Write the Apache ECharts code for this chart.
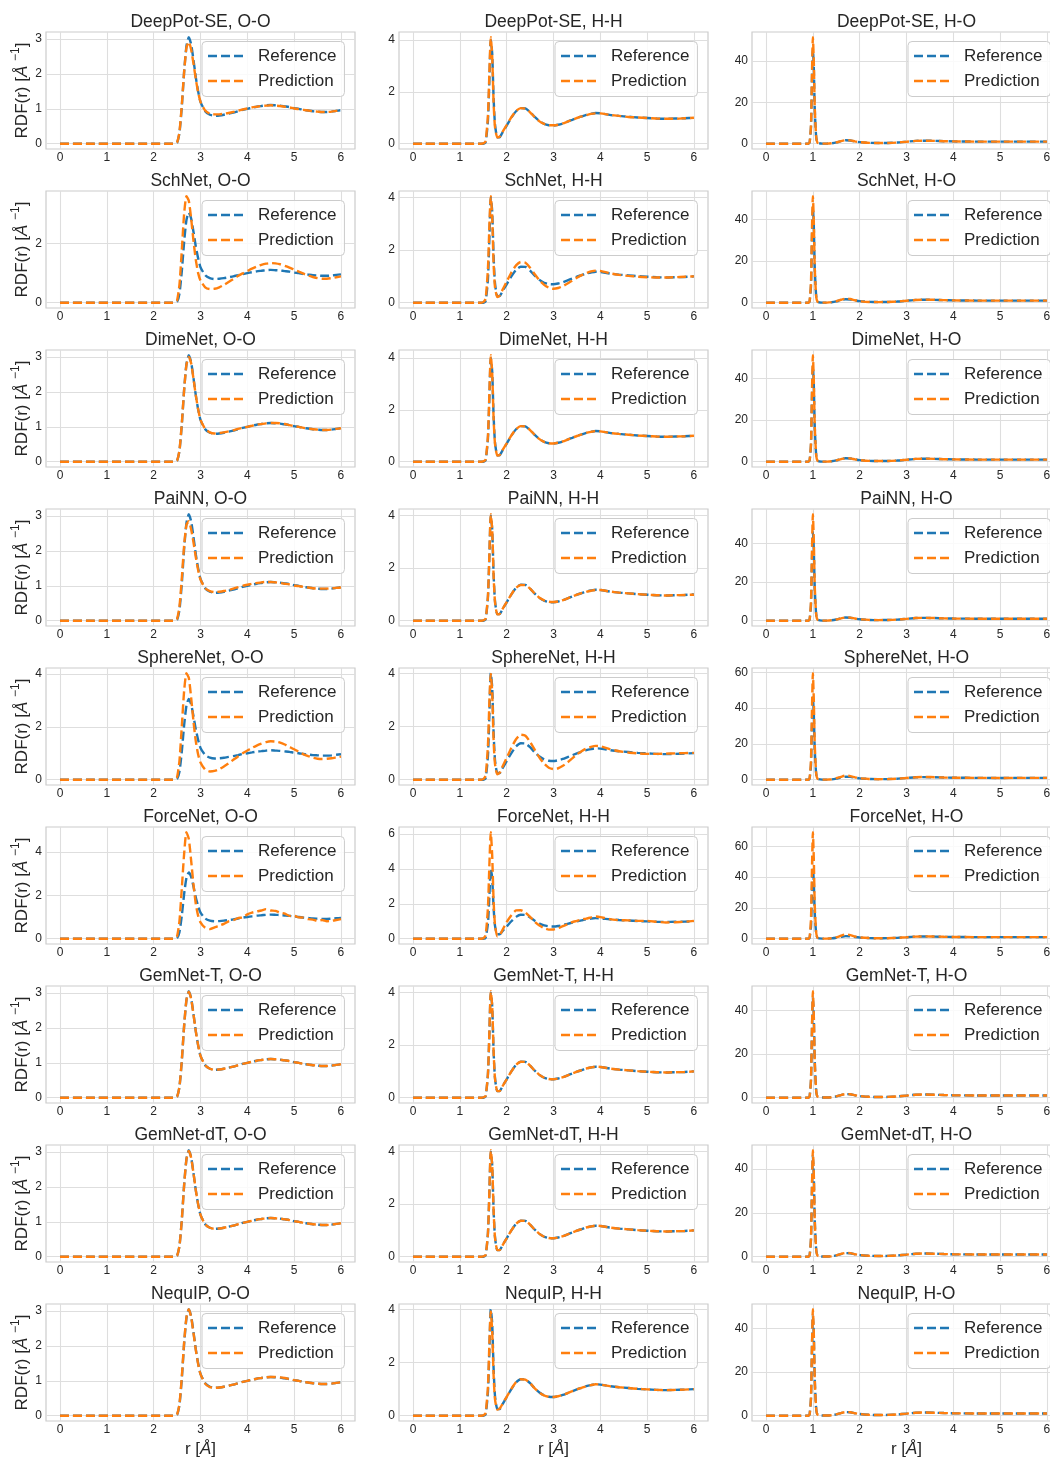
<!DOCTYPE html>
<html><head><meta charset="utf-8">
<script src="https://cdn.jsdelivr.net/npm/echarts@6/dist/echarts.min.js"></script>
<style>html,body{margin:0;padding:0;background:#fff;overflow:hidden;width:1050px;height:1462px}#c{width:1070px;height:1462px}</style>
</head><body><div id="c"></div>
<script>
const models = ['DeepPot-SE','SchNet','DimeNet','PaiNN','SphereNet','ForceNet','GemNet-T','GemNet-dT','NequIP'];
const pairs = ['O-O','H-H','H-O'];
const seriesNames = ['Reference','Prediction'];

// r grids [Å]
const rOO = [0,2.4,2.45,2.5,2.55,2.6,2.65,2.7,2.75,2.8,2.85,2.9,2.95,3.0,3.1,3.2,3.3,3.4,3.5,3.6,3.7,3.8,3.9,4.0,4.1,4.2,4.3,4.4,4.5,4.6,4.7,4.8,4.9,5.0,5.1,5.2,5.3,5.4,5.5,5.6,5.7,5.8,5.9,6.0];
const rHH = [0,1.45,1.5,1.55,1.6,1.63,1.66,1.69,1.72,1.75,1.8,1.85,1.9,2.0,2.1,2.2,2.3,2.4,2.5,2.6,2.7,2.8,2.9,3.0,3.1,3.2,3.3,3.4,3.5,3.6,3.7,3.8,3.9,4.0,4.2,4.4,4.6,4.8,5.0,5.2,5.4,5.6,5.8,6.0];
const rHO = [0,0.9,0.93,0.96,0.98,1.0,1.02,1.04,1.07,1.1,1.2,1.3,1.4,1.5,1.6,1.7,1.8,1.9,2.0,2.2,2.4,2.6,2.8,3.0,3.2,3.4,3.6,3.8,4.0,4.5,5.0,5.5,6.0];

// reference RDFs
const refOO = [0,0,0,0.03,0.3,1.05,2.05,2.8,3.05,2.85,2.4,1.9,1.5, 1.2,0.93,0.83,0.8,0.81,0.83,0.86,0.89,0.93,0.97,1.0, 1.03,1.06,1.08,1.1,1.11,1.1,1.09,1.07,1.05,1.02, 1.0,0.97,0.95,0.93,0.92,0.91,0.91,0.92,0.94,0.96];
const refHH = [0,0,0,0.05,0.9,2.4,4.0,3.5,1.8,0.75,0.25,0.25,0.4, 0.7,1.0,1.25,1.37,1.36,1.22,1.03,0.87,0.76,0.71,0.7, 0.73,0.78,0.85,0.92,0.99,1.05,1.11,1.15,1.18,1.17, 1.11,1.07,1.04,1.01,0.99,0.97,0.96,0.97,0.98,1.0];
const refHO = [0,0,0.5,8,30,46,37,17,3.5,0.5, 0.05,0.05,0.2,0.6,1.2,1.65,1.55,1.1,0.75, 0.4,0.3,0.35,0.55,0.95,1.35,1.45,1.35,1.2,1.1, 1.0,0.98,0.99,1.0];

// predicted RDFs, O-O
const deepPotOO = [0,0,0,0.04,0.33,1.1,2.05,2.75,2.92,2.7,2.3,1.85,1.47, 1.2,0.95,0.86,0.84,0.84,0.86,0.88,0.91,0.94,0.98,1.01, 1.04,1.06,1.08,1.09,1.1,1.09,1.08,1.06,1.04,1.01, 0.99,0.97,0.95,0.93,0.92,0.91,0.91,0.92,0.94,0.96];
const schNetOO = [0,0,0.01,0.08,0.6,1.75,3.0,3.6,3.45,2.85,2.1,1.45,1.0, 0.75,0.52,0.46,0.47,0.52,0.6,0.7,0.8,0.9,0.99,1.07, 1.15,1.22,1.28,1.32,1.34,1.33,1.3,1.25,1.19,1.12, 1.05,0.98,0.92,0.87,0.83,0.81,0.81,0.83,0.86,0.89];
const dimeNetOO = [0,0,0,0.03,0.32,1.08,2.05,2.78,3.0,2.82,2.38,1.9,1.5, 1.2,0.94,0.84,0.81,0.82,0.84,0.87,0.9,0.94,0.97,1.0, 1.03,1.06,1.08,1.1,1.11,1.11,1.1,1.08,1.05,1.02, 1.0,0.97,0.95,0.93,0.92,0.91,0.91,0.92,0.94,0.96];
const paiNNOO = [0,0,0,0.05,0.4,1.2,2.15,2.75,2.85,2.62,2.25,1.82,1.45, 1.18,0.93,0.85,0.82,0.83,0.85,0.88,0.92,0.96,1.0,1.03, 1.06,1.08,1.1,1.11,1.11,1.1,1.08,1.06,1.04,1.01, 0.99,0.97,0.95,0.93,0.92,0.92,0.92,0.93,0.94,0.95];
const sphereNetOO = [0,0,0.01,0.1,0.7,2.0,3.35,4.02,3.85,3.1,2.2,1.45,0.95, 0.65,0.38,0.31,0.33,0.4,0.5,0.62,0.75,0.88,1.0,1.1, 1.2,1.29,1.36,1.42,1.45,1.44,1.4,1.33,1.24,1.15, 1.05,0.96,0.89,0.83,0.79,0.78,0.79,0.81,0.84,0.87];
const forceNetOO = [0,0,0.02,0.12,0.8,2.3,3.9,4.9,4.6,3.6,2.5,1.6,1.05, 0.75,0.5,0.44,0.52,0.6,0.68,0.8,0.85,0.95,0.98,1.12, 1.2,1.25,1.3,1.36,1.3,1.28,1.2,1.15,1.05,1.05, 0.98,0.97,0.9,0.88,0.82,0.86,0.8,0.82,0.86,0.9];
const gemNetTOO = [0,0,0,0.03,0.31,1.06,2.06,2.8,3.04,2.84,2.39,1.9,1.5, 1.2,0.93,0.83,0.8,0.81,0.83,0.86,0.89,0.93,0.97,1.0, 1.03,1.06,1.08,1.1,1.11,1.1,1.09,1.07,1.05,1.02, 1.0,0.97,0.95,0.93,0.92,0.91,0.91,0.92,0.94,0.96];
const gemNetdTOO = [0,0,0,0.03,0.3,1.04,2.04,2.79,3.03,2.84,2.4,1.9,1.5, 1.2,0.93,0.83,0.8,0.81,0.83,0.86,0.89,0.93,0.97,1.0, 1.03,1.06,1.08,1.1,1.11,1.1,1.09,1.07,1.05,1.02, 1.0,0.97,0.95,0.93,0.92,0.91,0.91,0.92,0.94,0.96];
const nequIPOO = [0,0,0,0.04,0.33,1.1,2.1,2.82,3.05,2.83,2.37,1.88,1.48, 1.19,0.92,0.82,0.8,0.81,0.83,0.86,0.89,0.93,0.97,1.0, 1.03,1.06,1.08,1.1,1.11,1.11,1.1,1.08,1.05,1.02, 1.0,0.97,0.95,0.93,0.92,0.91,0.91,0.92,0.94,0.96];

// predicted RDFs, H-H
const deepPotHH = [0,0,0.01,0.1,1.1,2.7,4.1,3.4,1.6,0.65,0.24,0.27,0.42, 0.72,1.02,1.26,1.37,1.35,1.21,1.02,0.86,0.76,0.71,0.71, 0.73,0.78,0.85,0.92,0.99,1.05,1.1,1.15,1.17,1.17, 1.11,1.07,1.03,1.01,0.99,0.97,0.96,0.96,0.98,1.0];
const schNetHH = [0,0,0.02,0.15,1.3,2.9,4.05,3.3,1.5,0.6,0.21,0.27,0.45, 0.8,1.15,1.42,1.55,1.52,1.33,1.08,0.85,0.68,0.57,0.53, 0.56,0.63,0.73,0.84,0.95,1.05,1.13,1.19,1.22,1.21, 1.12,1.06,1.02,0.99,0.97,0.96,0.96,0.97,0.99,1.0];
const dimeNetHH = [0,0,0.01,0.08,1.0,2.6,4.1,3.45,1.7,0.7,0.24,0.26,0.41, 0.71,1.01,1.25,1.37,1.36,1.22,1.03,0.87,0.76,0.71,0.7, 0.73,0.78,0.85,0.92,0.99,1.05,1.11,1.15,1.18,1.17, 1.11,1.07,1.04,1.01,0.99,0.97,0.96,0.97,0.98,1.0];
const paiNNHH = [0,0,0.01,0.07,0.95,2.5,4.05,3.5,1.75,0.72,0.24,0.26,0.41, 0.71,1.0,1.25,1.36,1.35,1.22,1.03,0.87,0.77,0.72,0.71, 0.73,0.78,0.85,0.92,0.99,1.05,1.1,1.14,1.17,1.17, 1.11,1.07,1.04,1.01,0.99,0.97,0.96,0.97,0.98,0.99];
const sphereNetHH = [0,0,0.02,0.15,1.3,2.9,3.98,3.3,1.5,0.6,0.2,0.26,0.45, 0.82,1.2,1.52,1.69,1.65,1.42,1.12,0.83,0.6,0.45,0.4, 0.43,0.52,0.65,0.8,0.95,1.07,1.17,1.23,1.27,1.26, 1.15,1.07,1.02,0.99,0.97,0.97,0.98,0.99,1.0,1.01];
const forceNetHH = [0,0,0.02,0.2,1.8,4.2,6.1,4.8,2.2,0.8,0.13,0.2,0.45, 0.95,1.35,1.62,1.63,1.5,1.25,0.97,0.75,0.6,0.52,0.53, 0.6,0.72,0.82,0.95,1.02,1.1,1.15,1.22,1.27,1.24, 1.12,1.06,1.05,1.02,1.02,0.97,0.93,0.94,0.97,1.02];
const gemNetTHH = [0,0,0.01,0.06,0.92,2.45,4.05,3.5,1.78,0.74,0.25,0.25,0.4, 0.7,1.0,1.25,1.37,1.36,1.22,1.03,0.87,0.76,0.71,0.7, 0.73,0.78,0.85,0.92,0.99,1.05,1.11,1.15,1.18,1.17, 1.11,1.07,1.04,1.01,0.99,0.97,0.96,0.97,0.98,1.0];
const gemNetdTHH = [0,0,0.01,0.06,0.9,2.45,4.05,3.5,1.78,0.74,0.25,0.25,0.4, 0.7,1.0,1.25,1.37,1.36,1.22,1.03,0.87,0.76,0.71,0.7, 0.73,0.78,0.85,0.92,0.99,1.05,1.11,1.15,1.18,1.17, 1.11,1.07,1.04,1.01,0.99,0.97,0.96,0.97,0.98,1.0];
const nequIPHH = [0,0,0.01,0.1,1.1,2.7,3.92,3.2,1.55,0.62,0.23,0.26,0.41, 0.71,1.01,1.26,1.37,1.36,1.22,1.03,0.87,0.76,0.71,0.7, 0.73,0.78,0.85,0.92,0.99,1.05,1.11,1.15,1.18,1.17, 1.11,1.07,1.04,1.01,0.99,0.97,0.96,0.97,0.98,1.0];

// predicted RDFs, H-O
const deepPotHO = [0,0,0.6,9,33,51.5,40,18,3.6,0.5, 0.05,0.05,0.2,0.6,1.25,1.7,1.6,1.12,0.75, 0.4,0.3,0.35,0.55,0.95,1.35,1.45,1.35,1.2,1.1, 1.0,0.98,0.99,1.0];
const schNetHO = [0,0,0.7,10,34,51,39,17,3.2,0.5, 0.05,0.05,0.25,0.7,1.4,1.95,1.75,1.15,0.7, 0.35,0.28,0.35,0.55,0.95,1.3,1.45,1.38,1.22,1.1, 1.0,0.98,0.99,1.0];
const dimeNetHO = [0,0,0.6,9,32,51,39,17.5,3.5,0.5, 0.05,0.05,0.2,0.6,1.2,1.7,1.6,1.1,0.75, 0.4,0.3,0.35,0.55,0.95,1.35,1.45,1.35,1.2,1.1, 1.0,0.98,0.99,1.0];
const paiNNHO = [0,0,0.6,10,35,55,42,18,3.5,0.5, 0.05,0.05,0.2,0.6,1.2,1.7,1.6,1.1,0.75, 0.4,0.3,0.35,0.55,0.95,1.35,1.45,1.35,1.2,1.1, 1.0,0.98,0.99,1.0];
const sphereNetHO = [0,0,0.8,11,38,59.5,45,20,4,0.6, 0.05,0.05,0.25,0.8,1.6,2.3,2.0,1.3,0.8, 0.4,0.28,0.32,0.55,0.95,1.35,1.5,1.4,1.22,1.1, 1.0,0.98,0.99,1.0];
const forceNetHO = [0,0,0.9,13,44,69,52,22,4.5,0.6, 0.05,0.05,0.3,0.9,1.9,2.8,2.3,1.4,0.8, 0.4,0.28,0.32,0.55,0.95,1.35,1.5,1.4,1.22,1.1, 1.0,0.98,0.99,1.0];
const gemNetTHO = [0,0,0.5,8.5,31,48.8,38,17,3.5,0.5, 0.05,0.05,0.2,0.6,1.2,1.65,1.55,1.1,0.75, 0.4,0.3,0.35,0.55,0.95,1.35,1.45,1.35,1.2,1.1, 1.0,0.98,0.99,1.0];
const gemNetdTHO = [0,0,0.5,8.5,31,48.6,38,17,3.5,0.5, 0.05,0.05,0.2,0.6,1.25,1.7,1.6,1.12,0.75, 0.4,0.3,0.35,0.55,0.95,1.35,1.45,1.35,1.2,1.1, 1.0,0.98,0.99,1.0];
const nequIPHO = [0,0,0.5,8.5,31,48.7,38,17,3.5,0.5, 0.05,0.05,0.2,0.6,1.2,1.65,1.55,1.1,0.75, 0.4,0.3,0.35,0.55,0.95,1.35,1.45,1.35,1.2,1.1, 1.0,0.98,0.99,1.0];

const xTickStep = 1;
const yTickSteps = [0.5,1,2,5,10,20,50,100];

// ---- build option ----
const predOO = [deepPotOO,schNetOO,dimeNetOO,paiNNOO,sphereNetOO,forceNetOO,gemNetTOO,gemNetdTOO,nequIPOO];
const predHH = [deepPotHH,schNetHH,dimeNetHH,paiNNHH,sphereNetHH,forceNetHH,gemNetTHH,gemNetdTHH,nequIPHH];
const predHO = [deepPotHO,schNetHO,dimeNetHO,paiNNHO,sphereNetHO,forceNetHO,gemNetTHO,gemNetdTHO,nequIPHO];
const rGrids = [rOO,rHH,rHO], refs = [refOO,refHH,refHO], preds = [predOO,predHH,predHO];

const FONT = '"Liberation Sans", Arial, Helvetica, sans-serif';
const TXT = '#262626';
const BLUE = '#1f77b4', ORANGE = '#ff7f0e';
const colLeft = [46, 399, 752], W = 309, H = 117, top0 = 32, pitch = 159;
const DASH = [9, 4];
const LEG_ICON = 'path://M0,0h9v2.4h-9zM13,0h9v2.4h-9zM26,0h9v2.4h-9z';

function pickStep(M) { for (const s of yTickSteps) if (M / s <= 3.5) return s; return 100; }
const rich = {
  i: {fontSize: 17, fontStyle: 'italic', fontFamily: FONT, color: TXT},
  s: {fontSize: 12, fontFamily: FONT, color: TXT, verticalAlign: 'top', lineHeight: 12}
};

const grid = [], xAxis = [], yAxis = [], series = [], title = [], legend = [];
models.forEach((m, i) => {
  pairs.forEach((p, j) => {
    const k = i * 3 + j;
    const L = colLeft[j], T = top0 + i * pitch;
    const r = rGrids[j], ref = refs[j], pr = preds[j][i];
    const M = Math.max(...ref, ...pr);
    const st = pickStep(M);
    grid.push({left: L, top: T, width: W, height: H, show: true, backgroundColor: '#fff',
      borderColor: '#cccccc', borderWidth: 1.2, containLabel: false});
    xAxis.push({type: 'value', gridIndex: k, min: -0.3, max: 6.3, minInterval: xTickStep, maxInterval: xTickStep,
      axisLine: {show: false}, axisTick: {show: false},
      splitLine: {show: true, showMinLine: false, showMaxLine: false, lineStyle: {color: '#dedede', width: 1.1}},
      axisLabel: {showMinLabel: false, showMaxLabel: false, fontSize: 12, color: TXT, fontFamily: FONT, margin: 3},
      name: i === models.length - 1 ? 'r [{i|Å}]' : '', nameLocation: 'middle', nameGap: 20,
      nameTextStyle: {fontSize: 17, color: TXT, fontFamily: FONT, rich: rich}});
    yAxis.push({type: 'value', gridIndex: k, min: -0.05 * M, max: 1.05 * M, minInterval: st, maxInterval: st,
      axisLine: {show: false}, axisTick: {show: false},
      splitLine: {show: true, showMinLine: false, showMaxLine: false, lineStyle: {color: '#dedede', width: 1.1}},
      axisLabel: {showMinLabel: false, showMaxLabel: false, fontSize: 12, color: TXT, fontFamily: FONT, margin: 4},
      name: j === 0 ? 'RDF(r) [{i|Å} {s|−1}]' : '', nameLocation: 'middle', nameGap: 12, nameRotate: 90,
      nameMoveOverlap: false,
      nameTextStyle: {fontSize: 17, color: TXT, fontFamily: FONT, lineHeight: 24, rich: rich}});
    [ref, pr].forEach((arr, s) => {
      series.push({type: 'line', name: seriesNames[s], xAxisIndex: k, yAxisIndex: k,
        data: r.map((x, n) => [x, arr[n]]), symbol: 'none', smooth: 0.2, clip: true,
        color: s ? ORANGE : BLUE, itemStyle: {color: s ? ORANGE : BLUE},
        lineStyle: {color: s ? ORANGE : BLUE, width: 2.4, type: DASH}, z: 3 + s, animation: false});
    });
    title.push({text: m + ', ' + p, left: L + W / 2, top: T - 19, textAlign: 'center', padding: 0,
      textStyle: {fontSize: 17.5, fontWeight: 'normal', color: TXT, fontFamily: FONT}});
    legend.push({left: L + 156, top: T + 9.5, orient: 'vertical', data: seriesNames, selectedMode: false,
      icon: LEG_ICON, itemWidth: 35, itemHeight: 2.4, itemGap: 8, padding: [6, 8, 7, 6],
      backgroundColor: 'rgba(255,255,255,0.85)', borderColor: '#cccccc', borderWidth: 1, borderRadius: 4,
      textStyle: {fontSize: 17, color: TXT, fontFamily: FONT, padding: [0, 0, 0, 10]}});
  });
});

const chart = echarts.init(document.getElementById('c'), null, {renderer: 'canvas'});
chart.setOption({backgroundColor: '#fff', animation: false, title, legend, grid, xAxis, yAxis, series});
</script></body></html>
